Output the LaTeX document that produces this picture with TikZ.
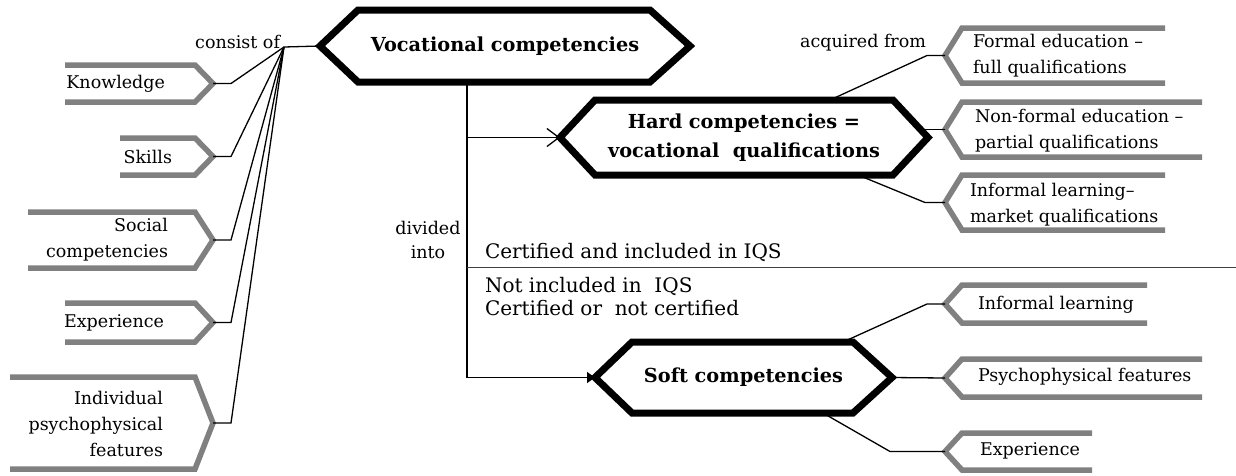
\documentclass[tikz,border=0pt]{standalone}
\usepackage{fontspec}
\setmainfont{DejaVu Serif}
\usetikzlibrary{arrows.meta}
\definecolor{tagGray}{HTML}{808080}
\definecolor{sepGray}{HTML}{404040}
\newcommand\lgray[3]{\draw[tagline] (#1,#2) -- (195,#2) -- (213,{(#2+#3)/2}) -- (195,#3) -- (#1,#3);}
\newcommand\rgray[3]{\draw[tagline] (#1,#2) -- (962,#2) -- (945,{(#2+#3)/2}) -- (962,#3) -- (#1,#3);}
\newcommand\hexout[3]{\draw[hexline] (#1.west) -- ([xshift=#2]#1.north west) -- ([xshift=-#3]#1.north east) -- (#1.east) -- ([xshift=-#3]#1.south east) -- ([xshift=#2]#1.south west) -- cycle;}
\begin{document}
\begin{tikzpicture}[x=1pt,y=-1pt,
  lbl/.style={font=\fontsize{17.5}{26}\selectfont, inner sep=0pt, outer sep=0pt},
  iqs/.style={font=\fontsize{20}{23}\selectfont, inner sep=0pt, outer sep=0pt},
  hexbox/.style={font=\fontsize{19.3}{29}\selectfont\bfseries, align=center, inner sep=0pt, outer sep=0pt},
  tagline/.style={draw=tagGray, line width=5.5pt, line cap=butt, line join=miter},
  hexline/.style={draw=black, line width=7pt, line join=miter},
  conn/.style={draw=black, line width=1.3pt},
  sepline/.style={draw=sepGray, line width=1pt}]
\useasboundingbox (0,0) rectangle (1236,475);

% central nodes (hexagons)
\node[hexbox, minimum width=370pt, minimum height=72pt] (voc) at (505,46) {Vocational competencies};
\node[hexbox, minimum width=368pt, minimum height=75pt] (hard) at (744,137.5) {Hard competencies =\\vocational\ \ qualifications};
\node[hexbox, minimum width=297pt, minimum height=71pt] (soft) at (743.5,377.5) {Soft competencies};

% left tags
\lgray{65}{65}{102}
\coordinate (tK) at (213,83.5);
\node[lbl, anchor=east] (know) at (165,83.5) {Knowledge};
\lgray{120}{138}{175}
\coordinate (tS) at (213,156.5);
\node[lbl, anchor=east] (skills) at (172,156.5) {Skills};
\lgray{28}{212}{268}
\coordinate (tSo) at (213,240);
\node[lbl, anchor=east, align=right] (social) at (168,240) {Social\\competencies};
\lgray{65}{303}{342}
\coordinate (tE) at (213,322.5);
\node[lbl, anchor=east] (exper) at (164,322.5) {Experience};
\lgray{10}{377}{469}
\coordinate (tI) at (213,423);
\node[lbl, anchor=east, align=right] (indiv) at (163,424) {Individual\\psychophysical\\features};

% fan
\coordinate (fan) at (284,47);
\node[lbl, anchor=east] (consist) at (280,42) {consist of};
\draw[conn] (fan) -- (voc.west);
\foreach \t in {tK,tS,tSo,tE,tI} \draw[conn] (\t) -- ++(18,0) -- (fan);

% trunk
\coordinate (trunk) at (467,82);
\draw[conn, -{Straight Barb[length=12pt,width=18pt]}] (trunk) |- (hard.west);
\draw[conn, -{Triangle[length=8pt,width=11pt]}] (trunk) |- (soft.west);
\node[lbl, align=center, font=\fontsize{17.5}{24}\selectfont] (div) at (428,240) {divided\\into};

% separator
\coordinate (sepL) at (467,267);
\coordinate (sepR) at (1236,267);
\draw[sepline] (sepL) -- (sepR);
\node[iqs, anchor=west] (cert) at (485,252) {Certified and included in IQS};
\node[iqs, anchor=west, align=left] (notinc) at (485,296.5) {Not included in\ \ IQS\\Certified or\ \ not certified};

% right tags (hard)
\rgray{1165}{28}{83}
\coordinate (tF) at (945,55.5);
\node[lbl, anchor=west, align=left] (formal) at (973,56) {Formal education –\\full qualifications};
\rgray{1202}{102}{157}
\coordinate (tNF) at (945,129.5);
\node[lbl, anchor=west, align=left] (nonformal) at (975,131) {Non-formal education –\\partial qualifications};
\rgray{1165}{175}{230}
\coordinate (tIM) at (945,202.5);
\node[lbl, anchor=west, align=left] (informalm) at (970,205) {Informal learning–\\market qualifications};
\node[lbl, anchor=east] (acq) at (926,43) {acquired from};

% right tags (soft)
\rgray{1147}{285}{323}
\coordinate (tIL) at (945,304);
\node[lbl, anchor=west] (informal) at (978,305) {Informal learning};
\rgray{1202}{359}{397}
\coordinate (tP) at (945,378);
\node[lbl, anchor=west] (psy) at (978,377) {Psychophysical features};
\rgray{1092}{433}{470}
\coordinate (tX) at (945,451.5);
\node[lbl, anchor=west] (exp2) at (980,451) {Experience};

% connectors from hexagons
\coordinate (hardR) at ([xshift=-9pt]hard.east);
\draw[conn] ([xshift=-98pt]hard.north east) -- ([xshift=-18pt]tF) -- (tF);
\draw[conn] (tNF -| hardR) -- (tNF);
\draw[conn] ([xshift=-70pt]hard.south east) -- ([xshift=-20pt]tIM) -- (tIM);
\draw[conn] ([xshift=-49pt]soft.north east) -- ([xshift=-18pt]tIL) -- (tIL);
\draw[conn] (soft.east) -- (tP);
\draw[conn] ([xshift=-69pt]soft.south east) -- ([xshift=-55pt]tX) -- (tX);

% hexagon outlines
\hexout{voc}{38pt}{40pt}
\hexout{hard}{35pt}{35pt}
\hexout{soft}{37pt}{39pt}
\end{tikzpicture}
\end{document}
